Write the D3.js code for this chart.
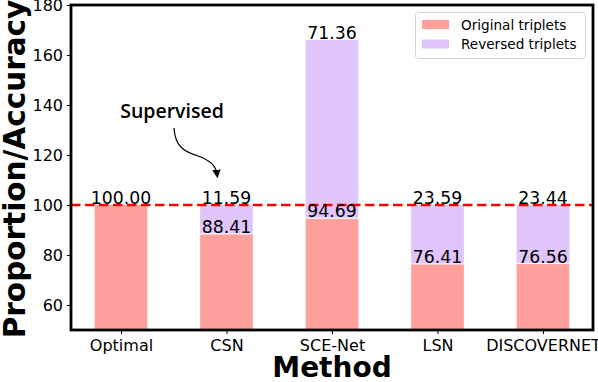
<!DOCTYPE html>
<html>
<head>
<meta charset="utf-8">
<script src="https://cdn.jsdelivr.net/npm/d3@7"></script>
<style>
  html, body { margin: 0; padding: 0; background: #fff; }
  svg { display: block; }
</style>
</head>
<body>
<svg id="chart" width="598" height="382"></svg>
<script>
const categories = ["Optimal", "CSN", "SCE-Net", "LSN", "DISCOVERNET"];
const original = [100.00, 88.41, 94.69, 76.41, 76.56];
const reversed = [0, 11.59, 71.36, 23.59, 23.44];
const yTicks = [60, 80, 100, 120, 140, 160, 180];
const seriesNames = ["Original triplets", "Reversed triplets"];
const colors = ["#ffa09c", "#e0c5fb"];
const refLine = 100;

const svg = d3.select("#chart");
const x = d3.scaleLinear().domain([-0.474, categories.length - 1 + 0.474]).range([71, 593]);
const y = d3.scaleLinear().domain([50, 180]).range([330, 5]);
const barW = x(0.5) - x(0);
const font = "DejaVu Sans, sans-serif";

const plot = svg.append("g");
svg.append("clipPath").attr("id", "clip").append("rect")
  .attr("x", x.range()[0]).attr("y", y.range()[1])
  .attr("width", x.range()[1] - x.range()[0]).attr("height", y.range()[0] - y.range()[1]);
const bars = plot.append("g").attr("clip-path", "url(#clip)");

bars.selectAll("rect.orig").data(original).join("rect")
  .attr("class", "orig")
  .attr("x", (d, i) => x(i) - barW / 2)
  .attr("width", barW)
  .attr("y", d => y(d))
  .attr("height", d => y(50) - y(d))
  .attr("fill", colors[0]);

bars.selectAll("rect.rev").data(reversed).join("rect")
  .attr("class", "rev")
  .attr("x", (d, i) => x(i) - barW / 2)
  .attr("width", barW)
  .attr("y", (d, i) => y(original[i] + d))
  .attr("height", (d, i) => y(original[i]) - y(original[i] + d))
  .attr("fill", colors[1]);

bars.selectAll("line.sep").data(original).join("line")
  .attr("x1", (d, i) => x(i) - barW / 2)
  .attr("x2", (d, i) => x(i) + barW / 2)
  .attr("y1", d => y(d)).attr("y2", d => y(d))
  .attr("stroke", (d, i) => reversed[i] > 0 ? "#fff" : "none")
  .attr("stroke-width", 1);

plot.append("line")
  .attr("x1", x.range()[0]).attr("x2", x.range()[1])
  .attr("y1", y(refLine)).attr("y2", y(refLine))
  .attr("stroke", "#ff0000").attr("stroke-width", 2.6)
  .attr("stroke-dasharray", "9.5,4.5");

const labels = plot.append("g").attr("font-family", font).attr("font-size", 17.3).attr("text-anchor", "middle").attr("fill", "#000");
original.forEach((v, i) => {
  labels.append("text").attr("x", x(i)).attr("y", y(v) - 1).text(v.toFixed(2));
});
reversed.forEach((v, i) => {
  if (v > 0) labels.append("text").attr("x", x(i)).attr("y", y(original[i] + v) - 1).text(v.toFixed(2));
});

const xAxis = d3.axisBottom(x).tickValues(d3.range(categories.length)).tickFormat(i => categories[i]).tickSize(4).tickSizeOuter(0);
const gx = svg.append("g").attr("transform", `translate(0,${y(50)})`).call(xAxis);
gx.select(".domain").remove();
gx.selectAll("text").attr("font-family", font).attr("font-size", 16).attr("fill", "#000").attr("dy", null).attr("y", 20.5);
gx.selectAll("line").attr("stroke", "#000");

const yAxis = d3.axisLeft(y).tickValues(yTicks).tickSize(4).tickSizeOuter(0);
const gy = svg.append("g").attr("transform", `translate(${x.range()[0]},0)`).call(yAxis);
gy.select(".domain").remove();
gy.selectAll("text").attr("font-family", font).attr("font-size", 16).attr("fill", "#000").attr("x", -8);
gy.selectAll("line").attr("stroke", "#000");

svg.append("rect")
  .attr("x", x.range()[0]).attr("y", y.range()[1])
  .attr("width", x.range()[1] - x.range()[0]).attr("height", y.range()[0] - y.range()[1])
  .attr("fill", "none").attr("stroke", "#000").attr("stroke-width", 2.8);

svg.append("text").attr("x", (x.range()[0] + x.range()[1]) / 2).attr("y", 377)
  .attr("text-anchor", "middle").attr("font-family", font).attr("font-weight", "bold").attr("font-size", 28)
  .text("Method");
svg.append("text").attr("transform", `translate(25,169) rotate(-90)`)
  .attr("text-anchor", "middle").attr("font-family", font).attr("font-weight", "bold").attr("font-size", 29.5)
  .text("Proportion/Accuracy");

svg.append("text").attr("x", 172).attr("y", 118).attr("text-anchor", "middle")
  .attr("font-family", "Open Sans, sans-serif").attr("font-weight", 600).attr("font-size", 19.5)
  .text("Supervised");
svg.append("defs").append("marker").attr("id", "arrow").attr("viewBox", "0 0 10 10")
  .attr("refX", 5).attr("refY", 5).attr("markerWidth", 7).attr("markerHeight", 7).attr("orient", "auto")
  .append("path").attr("d", "M0,0 L10,5 L0,10 z").attr("fill", "#000");
svg.append("path")
  .attr("d", "M174,128 C175,148 186,152 198,156 C210,160 216,166 217,174")
  .attr("fill", "none").attr("stroke", "#000").attr("stroke-width", 1.2)
  .attr("marker-end", "url(#arrow)");

const lg = svg.append("g");
lg.append("rect").attr("x", 415.5).attr("y", 12.5).attr("width", 170).attr("height", 46).attr("rx", 3)
  .attr("fill", "#fff").attr("fill-opacity", 0.8).attr("stroke", "#d5d5d5").attr("stroke-width", 1);
seriesNames.forEach((n, i) => {
  lg.append("rect").attr("x", 422).attr("y", 20 + i * 19.5).attr("width", 27).attr("height", 9).attr("fill", colors[i]);
  lg.append("text").attr("x", 461).attr("y", 29.5 + i * 19.5).attr("font-family", font).attr("font-size", 13.6).attr("fill", "#000").text(n);
});
</script>
</body>
</html>
